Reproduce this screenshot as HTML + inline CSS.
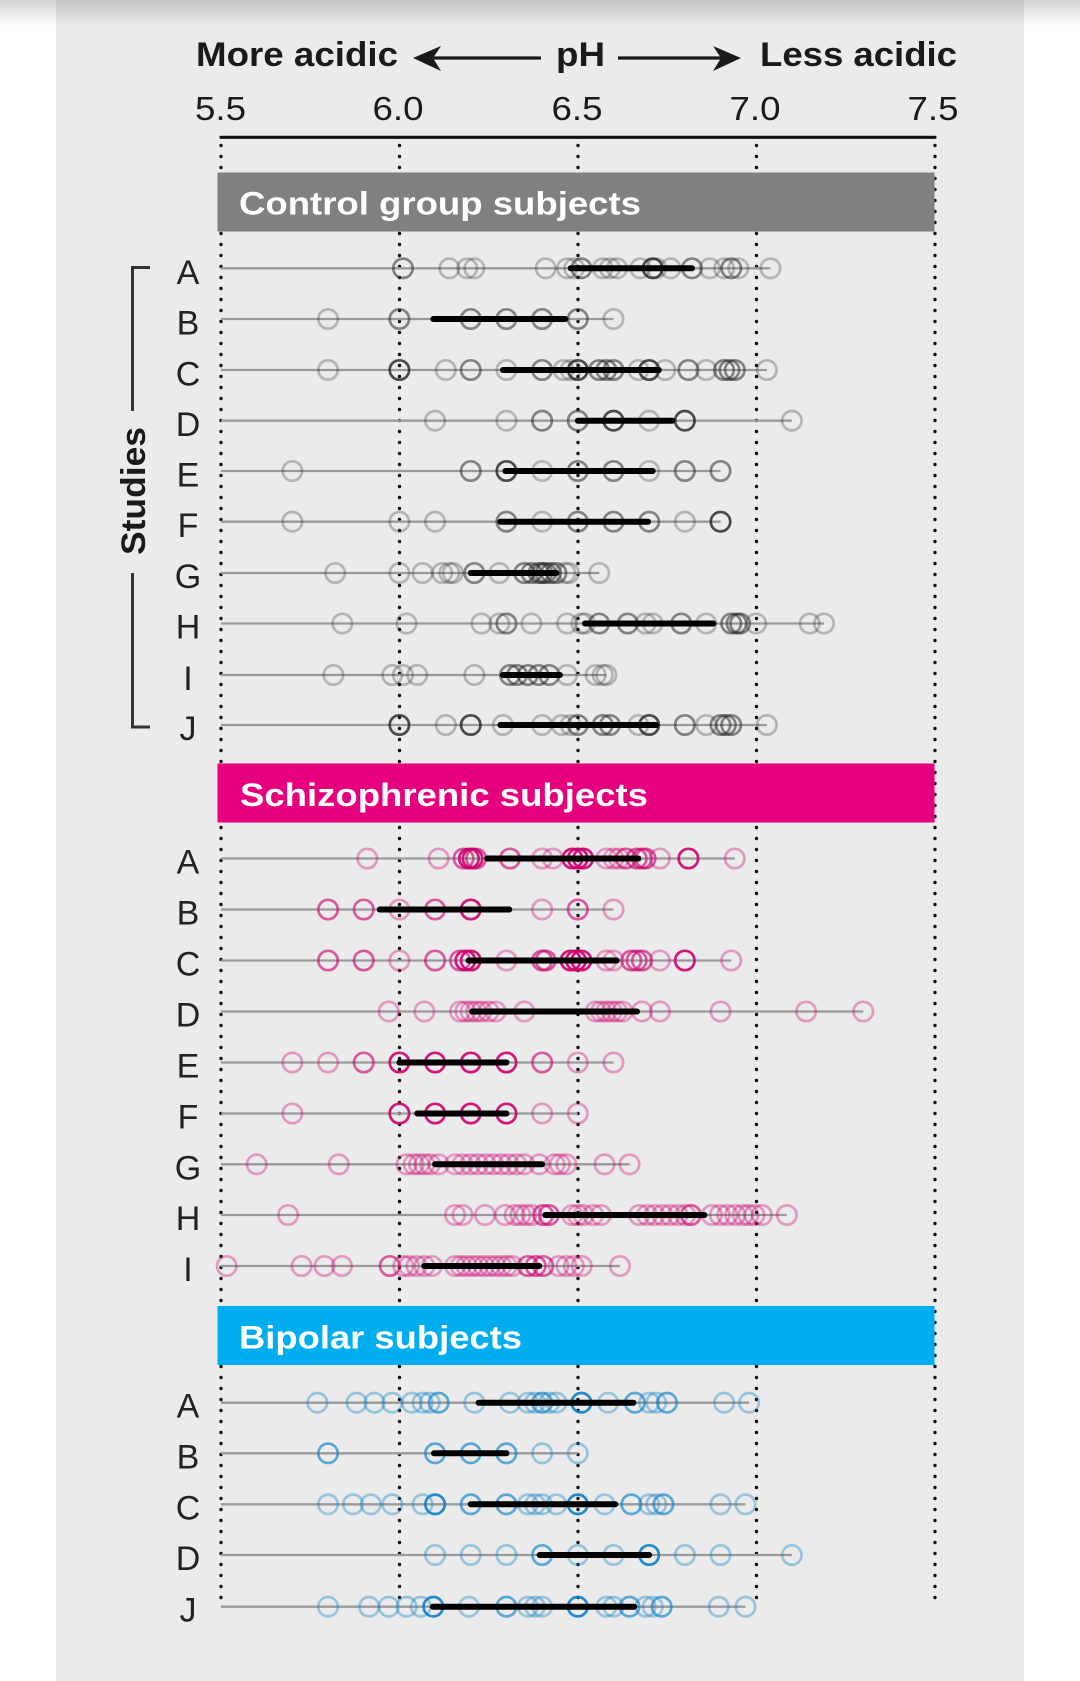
<!DOCTYPE html>
<html><head><meta charset="utf-8"><style>
html,body{margin:0;padding:0;background:#fff;}
svg{display:block;}
.c ellipse,.c line{vector-effect:non-scaling-stroke;}
.c ellipse{fill:none;stroke-width:2.7;}
.rl{stroke:#9a9a9a;stroke-width:2.3;}
.bar{stroke:#000;stroke-width:6;stroke-linecap:round;}
.k ellipse{stroke:#222;}
.k .l{stroke-opacity:.27}.k .m{stroke-opacity:.52}.k .d{stroke-opacity:.8}
.p ellipse{stroke:#cc0070;}
.p .l{stroke-opacity:.35}.p .m{stroke-opacity:.62}.p .d{stroke-opacity:.9}
.b ellipse{stroke:#0a80c6;}
.b .l{stroke-opacity:.37}.b .m{stroke-opacity:.64}.b .d{stroke-opacity:.9}
text{font-family:"Liberation Sans",Arial,sans-serif;}
</style></head><body>
<svg width="1080" height="1681" viewBox="0 0 1080 1681" xmlns="http://www.w3.org/2000/svg">
<defs>
<linearGradient id="sh" x1="0" y1="0" x2="0" y2="1">
<stop offset="0" stop-color="#000" stop-opacity="0.17"/>
<stop offset="1" stop-color="#000" stop-opacity="0"/>
</linearGradient>
</defs>
<rect x="0" y="0" width="1080" height="1681" fill="#fff"/>
<rect x="56" y="0" width="968" height="1681" fill="#ebebeb"/>
<rect x="0" y="0" width="1080" height="26" fill="url(#sh)"/>

<!-- title -->
<text x="196" y="66" font-size="34" font-weight="bold" fill="#1a1a1a" textLength="202" lengthAdjust="spacingAndGlyphs">More acidic</text>
<text x="556" y="66" font-size="34" font-weight="bold" fill="#1a1a1a" textLength="49" lengthAdjust="spacingAndGlyphs">pH</text>
<text x="760" y="66" font-size="34" font-weight="bold" fill="#1a1a1a" textLength="197" lengthAdjust="spacingAndGlyphs">Less acidic</text>
<line x1="428" y1="58" x2="541" y2="58" stroke="#1a1a1a" stroke-width="3.2"/>
<polygon points="413,58 441,46 433,58 441,71" fill="#1a1a1a"/>
<line x1="618" y1="58" x2="726" y2="58" stroke="#1a1a1a" stroke-width="3.2"/>
<polygon points="741,58 713,46 721,58 713,71" fill="#1a1a1a"/>

<!-- ticks -->
<g font-size="33" fill="#1a1a1a" text-anchor="middle">
<text x="220.5" y="120" textLength="51" lengthAdjust="spacingAndGlyphs">5.5</text>
<text x="398" y="120" textLength="51" lengthAdjust="spacingAndGlyphs">6.0</text>
<text x="577" y="120" textLength="51" lengthAdjust="spacingAndGlyphs">6.5</text>
<text x="755" y="120" textLength="51" lengthAdjust="spacingAndGlyphs">7.0</text>
<text x="933" y="120" textLength="51" lengthAdjust="spacingAndGlyphs">7.5</text>
</g>
<line x1="221" y1="137.3" x2="935" y2="137.3" stroke="#111" stroke-width="3.2" stroke-linecap="round"/>

<!-- dotted grid -->
<g stroke="#111" stroke-width="3.4" stroke-linecap="round" stroke-dasharray="0 11">
<line x1="221" y1="145.5" x2="221" y2="1607"/>
<line x1="399.5" y1="145.5" x2="399.5" y2="1607"/>
<line x1="578" y1="145.5" x2="578" y2="1607"/>
<line x1="756.5" y1="145.5" x2="756.5" y2="1607"/>
<line x1="935" y1="145.5" x2="935" y2="1607"/>
</g>

<!-- headers -->
<rect x="217.5" y="172.5" width="717" height="59" fill="#808082"/>
<text x="239" y="214.5" font-size="32" font-weight="bold" fill="#fff" textLength="402" lengthAdjust="spacingAndGlyphs">Control group subjects</text>
<rect x="217.5" y="763.5" width="717" height="59" fill="#e6007e"/>
<text x="240" y="806" font-size="32" font-weight="bold" fill="#fff" textLength="408" lengthAdjust="spacingAndGlyphs">Schizophrenic subjects</text>
<rect x="217.5" y="1306" width="717" height="59" fill="#00aeef"/>
<text x="239" y="1348.5" font-size="32" font-weight="bold" fill="#fff" textLength="283" lengthAdjust="spacingAndGlyphs">Bipolar subjects</text>

<!-- studies bracket -->
<path d="M150 267.5 H132.5 V411 M132.5 573 V727 H150" fill="none" stroke="#333" stroke-width="3"/>
<text transform="translate(145 491) rotate(-90)" font-size="34" font-weight="bold" fill="#1a1a1a" text-anchor="middle" textLength="128" lengthAdjust="spacingAndGlyphs">Studies</text>

<!-- row letters -->
<g font-size="34" fill="#222" text-anchor="middle">
<text x="188" y="284">A</text><text x="188" y="334.5">B</text><text x="188" y="385.5">C</text><text x="188" y="436">D</text><text x="188" y="486.5">E</text><text x="188" y="537">F</text><text x="188" y="588">G</text><text x="188" y="638.5">H</text><text x="188" y="690">I</text><text x="188" y="740">J</text>
<text x="188" y="873.5">A</text><text x="188" y="924.5">B</text><text x="188" y="975.5">C</text><text x="188" y="1026.5">D</text><text x="188" y="1077.5">E</text><text x="188" y="1128.5">F</text><text x="188" y="1179.5">G</text><text x="188" y="1230">H</text><text x="188" y="1281">I</text>
<text x="188" y="1417.5">A</text><text x="188" y="1468.5">B</text><text x="188" y="1519.5">C</text><text x="188" y="1570">D</text><text x="188" y="1621.5">J</text>
</g>

<!-- data -->
<g class="c" transform="translate(-1741.4 0) scale(356.8 1)">

<g class="k">
<g transform="translate(0 268.3)">
<line x1="5.5" x2="7.04" class="rl"/>
<ellipse cx="6.01" rx=".0272" ry="9.7" class="m"/><ellipse cx="6.14" rx=".0272" ry="9.7" class="l"/><ellipse cx="6.19" rx=".0272" ry="9.7" class="l"/><ellipse cx="6.21" rx=".0272" ry="9.7" class="l"/><ellipse cx="6.41" rx=".0272" ry="9.7" class="l"/><ellipse cx="6.47" rx=".0272" ry="9.7" class="l"/><ellipse cx="6.49" rx=".0272" ry="9.7" class="l"/><ellipse cx="6.51" rx=".0272" ry="9.7" class="m"/><ellipse cx="6.57" rx=".0272" ry="9.7" class="l"/><ellipse cx="6.59" rx=".0272" ry="9.7" class="l"/><ellipse cx="6.61" rx=".0272" ry="9.7" class="l"/><ellipse cx="6.675" rx=".0272" ry="9.7" class="l"/><ellipse cx="6.71" rx=".0272" ry="9.7" class="d"/><ellipse cx="6.72" rx=".0272" ry="9.7" class="l"/><ellipse cx="6.76" rx=".0272" ry="9.7" class="l"/><ellipse cx="6.82" rx=".0272" ry="9.7" class="m"/><ellipse cx="6.87" rx=".0272" ry="9.7" class="l"/><ellipse cx="6.91" rx=".0272" ry="9.7" class="l"/><ellipse cx="6.93" rx=".0272" ry="9.7" class="m"/><ellipse cx="6.95" rx=".0272" ry="9.7" class="l"/><ellipse cx="7.04" rx=".0272" ry="9.7" class="l"/>
<line x1="6.48" x2="6.82" class="bar"/>
</g>
<g transform="translate(0 319)">
<line x1="5.5" x2="6.6" class="rl"/>
<ellipse cx="5.8" rx=".0272" ry="9.7" class="l"/><ellipse cx="6.0" rx=".0272" ry="9.7" class="m"/><ellipse cx="6.2" rx=".0272" ry="9.7" class="m"/><ellipse cx="6.3" rx=".0272" ry="9.7" class="m"/><ellipse cx="6.4" rx=".0272" ry="9.7" class="m"/><ellipse cx="6.5" rx=".0272" ry="9.7" class="m"/><ellipse cx="6.6" rx=".0272" ry="9.7" class="l"/>
<line x1="6.095" x2="6.465" class="bar"/>
</g>
<g transform="translate(0 370)">
<line x1="5.5" x2="7.03" class="rl"/>
<ellipse cx="5.8" rx=".0272" ry="9.7" class="l"/><ellipse cx="6.0" rx=".0272" ry="9.7" class="d"/><ellipse cx="6.13" rx=".0272" ry="9.7" class="l"/><ellipse cx="6.2" rx=".0272" ry="9.7" class="m"/><ellipse cx="6.3" rx=".0272" ry="9.7" class="l"/><ellipse cx="6.4" rx=".0272" ry="9.7" class="m"/><ellipse cx="6.46" rx=".0272" ry="9.7" class="l"/><ellipse cx="6.48" rx=".0272" ry="9.7" class="l"/><ellipse cx="6.5" rx=".0272" ry="9.7" class="d"/><ellipse cx="6.56" rx=".0272" ry="9.7" class="m"/><ellipse cx="6.58" rx=".0272" ry="9.7" class="m"/><ellipse cx="6.6" rx=".0272" ry="9.7" class="m"/><ellipse cx="6.67" rx=".0272" ry="9.7" class="l"/><ellipse cx="6.7" rx=".0272" ry="9.7" class="d"/><ellipse cx="6.745" rx=".0272" ry="9.7" class="l"/><ellipse cx="6.81" rx=".0272" ry="9.7" class="m"/><ellipse cx="6.86" rx=".0272" ry="9.7" class="l"/><ellipse cx="6.91" rx=".0272" ry="9.7" class="m"/><ellipse cx="6.925" rx=".0272" ry="9.7" class="m"/><ellipse cx="6.94" rx=".0272" ry="9.7" class="m"/><ellipse cx="7.03" rx=".0272" ry="9.7" class="l"/>
<line x1="6.29" x2="6.727" class="bar"/>
</g>
<g transform="translate(0 420.7)">
<line x1="5.5" x2="7.1" class="rl"/>
<ellipse cx="6.1" rx=".0272" ry="9.7" class="l"/><ellipse cx="6.3" rx=".0272" ry="9.7" class="l"/><ellipse cx="6.4" rx=".0272" ry="9.7" class="m"/><ellipse cx="6.5" rx=".0272" ry="9.7" class="m"/><ellipse cx="6.6" rx=".0272" ry="9.7" class="d"/><ellipse cx="6.7" rx=".0272" ry="9.7" class="l"/><ellipse cx="6.8" rx=".0272" ry="9.7" class="d"/><ellipse cx="7.1" rx=".0272" ry="9.7" class="l"/>
<line x1="6.5" x2="6.765" class="bar"/>
</g>
<g transform="translate(0 471)">
<line x1="5.5" x2="6.9" class="rl"/>
<ellipse cx="5.7" rx=".0272" ry="9.7" class="l"/><ellipse cx="6.2" rx=".0272" ry="9.7" class="m"/><ellipse cx="6.3" rx=".0272" ry="9.7" class="d"/><ellipse cx="6.4" rx=".0272" ry="9.7" class="l"/><ellipse cx="6.5" rx=".0272" ry="9.7" class="m"/><ellipse cx="6.6" rx=".0272" ry="9.7" class="m"/><ellipse cx="6.7" rx=".0272" ry="9.7" class="l"/><ellipse cx="6.8" rx=".0272" ry="9.7" class="m"/><ellipse cx="6.9" rx=".0272" ry="9.7" class="m"/>
<line x1="6.297" x2="6.71" class="bar"/>
</g>
<g transform="translate(0 521.7)">
<line x1="5.5" x2="6.9" class="rl"/>
<ellipse cx="5.7" rx=".0272" ry="9.7" class="l"/><ellipse cx="6.0" rx=".0272" ry="9.7" class="l"/><ellipse cx="6.1" rx=".0272" ry="9.7" class="l"/><ellipse cx="6.3" rx=".0272" ry="9.7" class="m"/><ellipse cx="6.4" rx=".0272" ry="9.7" class="l"/><ellipse cx="6.5" rx=".0272" ry="9.7" class="m"/><ellipse cx="6.6" rx=".0272" ry="9.7" class="m"/><ellipse cx="6.7" rx=".0272" ry="9.7" class="m"/><ellipse cx="6.8" rx=".0272" ry="9.7" class="l"/><ellipse cx="6.9" rx=".0272" ry="9.7" class="d"/>
<line x1="6.283" x2="6.697" class="bar"/>
</g>
<g transform="translate(0 573)">
<line x1="5.5" x2="6.56" class="rl"/>
<ellipse cx="5.82" rx=".0272" ry="9.7" class="l"/><ellipse cx="6.0" rx=".0272" ry="9.7" class="l"/><ellipse cx="6.065" rx=".0272" ry="9.7" class="l"/><ellipse cx="6.12" rx=".0272" ry="9.7" class="l"/><ellipse cx="6.14" rx=".0272" ry="9.7" class="l"/><ellipse cx="6.15" rx=".0272" ry="9.7" class="l"/><ellipse cx="6.21" rx=".0272" ry="9.7" class="m"/><ellipse cx="6.28" rx=".0272" ry="9.7" class="l"/><ellipse cx="6.35" rx=".0272" ry="9.7" class="m"/><ellipse cx="6.37" rx=".0272" ry="9.7" class="m"/><ellipse cx="6.39" rx=".0272" ry="9.7" class="m"/><ellipse cx="6.40" rx=".0272" ry="9.7" class="m"/><ellipse cx="6.41" rx=".0272" ry="9.7" class="m"/><ellipse cx="6.425" rx=".0272" ry="9.7" class="m"/><ellipse cx="6.44" rx=".0272" ry="9.7" class="m"/><ellipse cx="6.465" rx=".0272" ry="9.7" class="l"/><ellipse cx="6.475" rx=".0272" ry="9.7" class="l"/><ellipse cx="6.56" rx=".0272" ry="9.7" class="l"/>
<line x1="6.2" x2="6.44" class="bar"/>
</g>
<g transform="translate(0 623.5)">
<line x1="5.5" x2="7.19" class="rl"/>
<ellipse cx="5.84" rx=".0272" ry="9.7" class="l"/><ellipse cx="6.02" rx=".0272" ry="9.7" class="l"/><ellipse cx="6.23" rx=".0272" ry="9.7" class="l"/><ellipse cx="6.28" rx=".0272" ry="9.7" class="l"/><ellipse cx="6.3" rx=".0272" ry="9.7" class="m"/><ellipse cx="6.37" rx=".0272" ry="9.7" class="l"/><ellipse cx="6.47" rx=".0272" ry="9.7" class="l"/><ellipse cx="6.51" rx=".0272" ry="9.7" class="l"/><ellipse cx="6.52" rx=".0272" ry="9.7" class="l"/><ellipse cx="6.56" rx=".0272" ry="9.7" class="m"/><ellipse cx="6.64" rx=".0272" ry="9.7" class="m"/><ellipse cx="6.69" rx=".0272" ry="9.7" class="l"/><ellipse cx="6.71" rx=".0272" ry="9.7" class="l"/><ellipse cx="6.79" rx=".0272" ry="9.7" class="m"/><ellipse cx="6.86" rx=".0272" ry="9.7" class="l"/><ellipse cx="6.93" rx=".0272" ry="9.7" class="m"/><ellipse cx="6.945" rx=".0272" ry="9.7" class="m"/><ellipse cx="6.955" rx=".0272" ry="9.7" class="m"/><ellipse cx="7.0" rx=".0272" ry="9.7" class="l"/><ellipse cx="7.15" rx=".0272" ry="9.7" class="l"/><ellipse cx="7.19" rx=".0272" ry="9.7" class="l"/>
<line x1="6.52" x2="6.88" class="bar"/>
</g>
<g transform="translate(0 675)">
<line x1="5.5" x2="6.58" class="rl"/>
<ellipse cx="5.815" rx=".0272" ry="9.7" class="l"/><ellipse cx="5.98" rx=".0272" ry="9.7" class="l"/><ellipse cx="6.01" rx=".0272" ry="9.7" class="l"/><ellipse cx="6.05" rx=".0272" ry="9.7" class="l"/><ellipse cx="6.21" rx=".0272" ry="9.7" class="l"/><ellipse cx="6.31" rx=".0272" ry="9.7" class="m"/><ellipse cx="6.33" rx=".0272" ry="9.7" class="m"/><ellipse cx="6.36" rx=".0272" ry="9.7" class="m"/><ellipse cx="6.39" rx=".0272" ry="9.7" class="m"/><ellipse cx="6.42" rx=".0272" ry="9.7" class="m"/><ellipse cx="6.47" rx=".0272" ry="9.7" class="l"/><ellipse cx="6.55" rx=".0272" ry="9.7" class="l"/><ellipse cx="6.57" rx=".0272" ry="9.7" class="l"/><ellipse cx="6.58" rx=".0272" ry="9.7" class="l"/>
<line x1="6.29" x2="6.45" class="bar"/>
</g>
<g transform="translate(0 725)">
<line x1="5.5" x2="7.03" class="rl"/>
<ellipse cx="6.0" rx=".0272" ry="9.7" class="d"/><ellipse cx="6.13" rx=".0272" ry="9.7" class="l"/><ellipse cx="6.2" rx=".0272" ry="9.7" class="d"/><ellipse cx="6.29" rx=".0272" ry="9.7" class="l"/><ellipse cx="6.4" rx=".0272" ry="9.7" class="l"/><ellipse cx="6.455" rx=".0272" ry="9.7" class="l"/><ellipse cx="6.48" rx=".0272" ry="9.7" class="l"/><ellipse cx="6.5" rx=".0272" ry="9.7" class="m"/><ellipse cx="6.57" rx=".0272" ry="9.7" class="m"/><ellipse cx="6.59" rx=".0272" ry="9.7" class="m"/><ellipse cx="6.67" rx=".0272" ry="9.7" class="l"/><ellipse cx="6.7" rx=".0272" ry="9.7" class="d"/><ellipse cx="6.8" rx=".0272" ry="9.7" class="m"/><ellipse cx="6.86" rx=".0272" ry="9.7" class="l"/><ellipse cx="6.9" rx=".0272" ry="9.7" class="m"/><ellipse cx="6.915" rx=".0272" ry="9.7" class="m"/><ellipse cx="6.93" rx=".0272" ry="9.7" class="m"/><ellipse cx="7.03" rx=".0272" ry="9.7" class="l"/>
<line x1="6.283" x2="6.72" class="bar"/>
</g>
</g>

<g class="p">
<g transform="translate(0 858.5)">
<line x1="5.5" x2="6.94" class="rl"/>
<ellipse cx="5.91" rx=".0272" ry="9.7" class="l"/><ellipse cx="6.11" rx=".0272" ry="9.7" class="l"/><ellipse cx="6.18" rx=".0272" ry="9.7" class="m"/><ellipse cx="6.195" rx=".0272" ry="9.7" class="d"/><ellipse cx="6.205" rx=".0272" ry="9.7" class="d"/><ellipse cx="6.215" rx=".0272" ry="9.7" class="m"/><ellipse cx="6.31" rx=".0272" ry="9.7" class="m"/><ellipse cx="6.4" rx=".0272" ry="9.7" class="l"/><ellipse cx="6.43" rx=".0272" ry="9.7" class="l"/><ellipse cx="6.485" rx=".0272" ry="9.7" class="d"/><ellipse cx="6.5" rx=".0272" ry="9.7" class="d"/><ellipse cx="6.515" rx=".0272" ry="9.7" class="d"/><ellipse cx="6.58" rx=".0272" ry="9.7" class="l"/><ellipse cx="6.6" rx=".0272" ry="9.7" class="l"/><ellipse cx="6.615" rx=".0272" ry="9.7" class="l"/><ellipse cx="6.635" rx=".0272" ry="9.7" class="m"/><ellipse cx="6.665" rx=".0272" ry="9.7" class="m"/><ellipse cx="6.68" rx=".0272" ry="9.7" class="m"/><ellipse cx="6.69" rx=".0272" ry="9.7" class="m"/><ellipse cx="6.73" rx=".0272" ry="9.7" class="l"/><ellipse cx="6.81" rx=".0272" ry="9.7" class="d"/><ellipse cx="6.94" rx=".0272" ry="9.7" class="l"/>
<line x1="6.246" x2="6.67" class="bar"/>
</g>
<g transform="translate(0 909.5)">
<line x1="5.5" x2="6.6" class="rl"/>
<ellipse cx="5.8" rx=".0272" ry="9.7" class="m"/><ellipse cx="5.9" rx=".0272" ry="9.7" class="m"/><ellipse cx="6.0" rx=".0272" ry="9.7" class="l"/><ellipse cx="6.1" rx=".0272" ry="9.7" class="m"/><ellipse cx="6.2" rx=".0272" ry="9.7" class="d"/><ellipse cx="6.4" rx=".0272" ry="9.7" class="l"/><ellipse cx="6.5" rx=".0272" ry="9.7" class="m"/><ellipse cx="6.6" rx=".0272" ry="9.7" class="l"/>
<line x1="5.945" x2="6.308" class="bar"/>
</g>
<g transform="translate(0 960.5)">
<line x1="5.5" x2="6.93" class="rl"/>
<ellipse cx="5.8" rx=".0272" ry="9.7" class="m"/><ellipse cx="5.9" rx=".0272" ry="9.7" class="m"/><ellipse cx="6.0" rx=".0272" ry="9.7" class="l"/><ellipse cx="6.1" rx=".0272" ry="9.7" class="m"/><ellipse cx="6.17" rx=".0272" ry="9.7" class="m"/><ellipse cx="6.185" rx=".0272" ry="9.7" class="d"/><ellipse cx="6.2" rx=".0272" ry="9.7" class="d"/><ellipse cx="6.3" rx=".0272" ry="9.7" class="l"/><ellipse cx="6.4" rx=".0272" ry="9.7" class="m"/><ellipse cx="6.41" rx=".0272" ry="9.7" class="m"/><ellipse cx="6.48" rx=".0272" ry="9.7" class="d"/><ellipse cx="6.495" rx=".0272" ry="9.7" class="d"/><ellipse cx="6.51" rx=".0272" ry="9.7" class="d"/><ellipse cx="6.58" rx=".0272" ry="9.7" class="l"/><ellipse cx="6.6" rx=".0272" ry="9.7" class="l"/><ellipse cx="6.65" rx=".0272" ry="9.7" class="m"/><ellipse cx="6.665" rx=".0272" ry="9.7" class="m"/><ellipse cx="6.68" rx=".0272" ry="9.7" class="m"/><ellipse cx="6.73" rx=".0272" ry="9.7" class="l"/><ellipse cx="6.8" rx=".0272" ry="9.7" class="d"/><ellipse cx="6.93" rx=".0272" ry="9.7" class="l"/>
<line x1="6.194" x2="6.609" class="bar"/>
</g>
<g transform="translate(0 1011.5)">
<line x1="5.5" x2="7.3" class="rl"/>
<ellipse cx="5.97" rx=".0272" ry="9.7" class="l"/><ellipse cx="6.07" rx=".0272" ry="9.7" class="l"/><ellipse cx="6.17" rx=".0272" ry="9.7" class="l"/><ellipse cx="6.185" rx=".0272" ry="9.7" class="l"/><ellipse cx="6.2" rx=".0272" ry="9.7" class="l"/><ellipse cx="6.215" rx=".0272" ry="9.7" class="l"/><ellipse cx="6.23" rx=".0272" ry="9.7" class="l"/><ellipse cx="6.25" rx=".0272" ry="9.7" class="l"/><ellipse cx="6.27" rx=".0272" ry="9.7" class="l"/><ellipse cx="6.35" rx=".0272" ry="9.7" class="l"/><ellipse cx="6.55" rx=".0272" ry="9.7" class="l"/><ellipse cx="6.565" rx=".0272" ry="9.7" class="l"/><ellipse cx="6.58" rx=".0272" ry="9.7" class="l"/><ellipse cx="6.595" rx=".0272" ry="9.7" class="l"/><ellipse cx="6.61" rx=".0272" ry="9.7" class="l"/><ellipse cx="6.625" rx=".0272" ry="9.7" class="l"/><ellipse cx="6.68" rx=".0272" ry="9.7" class="l"/><ellipse cx="6.73" rx=".0272" ry="9.7" class="l"/><ellipse cx="6.9" rx=".0272" ry="9.7" class="l"/><ellipse cx="7.14" rx=".0272" ry="9.7" class="l"/><ellipse cx="7.3" rx=".0272" ry="9.7" class="l"/>
<line x1="6.204" x2="6.666" class="bar"/>
</g>
<g transform="translate(0 1062.5)">
<line x1="5.5" x2="6.6" class="rl"/>
<ellipse cx="5.7" rx=".0272" ry="9.7" class="l"/><ellipse cx="5.8" rx=".0272" ry="9.7" class="l"/><ellipse cx="5.9" rx=".0272" ry="9.7" class="m"/><ellipse cx="6.0" rx=".0272" ry="9.7" class="d"/><ellipse cx="6.1" rx=".0272" ry="9.7" class="d"/><ellipse cx="6.2" rx=".0272" ry="9.7" class="d"/><ellipse cx="6.3" rx=".0272" ry="9.7" class="d"/><ellipse cx="6.4" rx=".0272" ry="9.7" class="m"/><ellipse cx="6.5" rx=".0272" ry="9.7" class="l"/><ellipse cx="6.6" rx=".0272" ry="9.7" class="l"/>
<line x1="6.0" x2="6.3" class="bar"/>
</g>
<g transform="translate(0 1113.5)">
<line x1="5.5" x2="6.5" class="rl"/>
<ellipse cx="5.7" rx=".0272" ry="9.7" class="l"/><ellipse cx="6.0" rx=".0272" ry="9.7" class="d"/><ellipse cx="6.1" rx=".0272" ry="9.7" class="d"/><ellipse cx="6.2" rx=".0272" ry="9.7" class="d"/><ellipse cx="6.3" rx=".0272" ry="9.7" class="d"/><ellipse cx="6.4" rx=".0272" ry="9.7" class="l"/><ellipse cx="6.5" rx=".0272" ry="9.7" class="l"/>
<line x1="6.05" x2="6.3" class="bar"/>
</g>
<g transform="translate(0 1164.3)">
<line x1="5.5" x2="6.645" class="rl"/>
<ellipse cx="5.6" rx=".0272" ry="9.7" class="l"/><ellipse cx="5.83" rx=".0272" ry="9.7" class="l"/><ellipse cx="6.02" rx=".0272" ry="9.7" class="l"/><ellipse cx="6.04" rx=".0272" ry="9.7" class="l"/><ellipse cx="6.055" rx=".0272" ry="9.7" class="l"/><ellipse cx="6.07" rx=".0272" ry="9.7" class="l"/><ellipse cx="6.086" rx=".0272" ry="9.7" class="l"/><ellipse cx="6.11" rx=".0272" ry="9.7" class="l"/><ellipse cx="6.156" rx=".0272" ry="9.7" class="l"/><ellipse cx="6.177" rx=".0272" ry="9.7" class="l"/><ellipse cx="6.199" rx=".0272" ry="9.7" class="l"/><ellipse cx="6.22" rx=".0272" ry="9.7" class="l"/><ellipse cx="6.242" rx=".0272" ry="9.7" class="l"/><ellipse cx="6.263" rx=".0272" ry="9.7" class="l"/><ellipse cx="6.285" rx=".0272" ry="9.7" class="l"/><ellipse cx="6.306" rx=".0272" ry="9.7" class="l"/><ellipse cx="6.328" rx=".0272" ry="9.7" class="l"/><ellipse cx="6.35" rx=".0272" ry="9.7" class="l"/><ellipse cx="6.392" rx=".0272" ry="9.7" class="l"/><ellipse cx="6.435" rx=".0272" ry="9.7" class="l"/><ellipse cx="6.45" rx=".0272" ry="9.7" class="l"/><ellipse cx="6.468" rx=".0272" ry="9.7" class="l"/><ellipse cx="6.575" rx=".0272" ry="9.7" class="l"/><ellipse cx="6.645" rx=".0272" ry="9.7" class="l"/>
<line x1="6.1" x2="6.4" class="bar"/>
</g>
<g transform="translate(0 1215)">
<line x1="5.5" x2="7.086" class="rl"/>
<ellipse cx="5.688" rx=".0272" ry="9.7" class="l"/><ellipse cx="6.156" rx=".0272" ry="9.7" class="l"/><ellipse cx="6.177" rx=".0272" ry="9.7" class="l"/><ellipse cx="6.24" rx=".0272" ry="9.7" class="l"/><ellipse cx="6.296" rx=".0272" ry="9.7" class="l"/><ellipse cx="6.323" rx=".0272" ry="9.7" class="l"/><ellipse cx="6.339" rx=".0272" ry="9.7" class="l"/><ellipse cx="6.355" rx=".0272" ry="9.7" class="l"/><ellipse cx="6.371" rx=".0272" ry="9.7" class="l"/><ellipse cx="6.403" rx=".0272" ry="9.7" class="m"/><ellipse cx="6.419" rx=".0272" ry="9.7" class="m"/><ellipse cx="6.484" rx=".0272" ry="9.7" class="l"/><ellipse cx="6.5" rx=".0272" ry="9.7" class="l"/><ellipse cx="6.516" rx=".0272" ry="9.7" class="l"/><ellipse cx="6.543" rx=".0272" ry="9.7" class="l"/><ellipse cx="6.565" rx=".0272" ry="9.7" class="l"/><ellipse cx="6.672" rx=".0272" ry="9.7" class="l"/><ellipse cx="6.694" rx=".0272" ry="9.7" class="l"/><ellipse cx="6.715" rx=".0272" ry="9.7" class="l"/><ellipse cx="6.737" rx=".0272" ry="9.7" class="l"/><ellipse cx="6.758" rx=".0272" ry="9.7" class="l"/><ellipse cx="6.78" rx=".0272" ry="9.7" class="l"/><ellipse cx="6.801" rx=".0272" ry="9.7" class="l"/><ellipse cx="6.817" rx=".0272" ry="9.7" class="m"/><ellipse cx="6.876" rx=".0272" ry="9.7" class="l"/><ellipse cx="6.898" rx=".0272" ry="9.7" class="l"/><ellipse cx="6.919" rx=".0272" ry="9.7" class="l"/><ellipse cx="6.941" rx=".0272" ry="9.7" class="l"/><ellipse cx="6.962" rx=".0272" ry="9.7" class="l"/><ellipse cx="6.978" rx=".0272" ry="9.7" class="l"/><ellipse cx="6.995" rx=".0272" ry="9.7" class="l"/><ellipse cx="7.016" rx=".0272" ry="9.7" class="l"/><ellipse cx="7.086" rx=".0272" ry="9.7" class="l"/>
<line x1="6.409" x2="6.855" class="bar"/>
</g>
<g transform="translate(0 1266)">
<line x1="5.5" x2="6.618" class="rl"/>
<ellipse cx="5.516" rx=".0272" ry="9.7" class="l"/><ellipse cx="5.726" rx=".0272" ry="9.7" class="l"/><ellipse cx="5.79" rx=".0272" ry="9.7" class="l"/><ellipse cx="5.839" rx=".0272" ry="9.7" class="l"/><ellipse cx="5.973" rx=".0272" ry="9.7" class="m"/><ellipse cx="6.011" rx=".0272" ry="9.7" class="l"/><ellipse cx="6.027" rx=".0272" ry="9.7" class="l"/><ellipse cx="6.048" rx=".0272" ry="9.7" class="l"/><ellipse cx="6.07" rx=".0272" ry="9.7" class="l"/><ellipse cx="6.091" rx=".0272" ry="9.7" class="l"/><ellipse cx="6.156" rx=".0272" ry="9.7" class="l"/><ellipse cx="6.172" rx=".0272" ry="9.7" class="l"/><ellipse cx="6.188" rx=".0272" ry="9.7" class="l"/><ellipse cx="6.204" rx=".0272" ry="9.7" class="l"/><ellipse cx="6.22" rx=".0272" ry="9.7" class="l"/><ellipse cx="6.237" rx=".0272" ry="9.7" class="l"/><ellipse cx="6.253" rx=".0272" ry="9.7" class="l"/><ellipse cx="6.269" rx=".0272" ry="9.7" class="l"/><ellipse cx="6.285" rx=".0272" ry="9.7" class="l"/><ellipse cx="6.301" rx=".0272" ry="9.7" class="l"/><ellipse cx="6.317" rx=".0272" ry="9.7" class="l"/><ellipse cx="6.36" rx=".0272" ry="9.7" class="m"/><ellipse cx="6.382" rx=".0272" ry="9.7" class="m"/><ellipse cx="6.403" rx=".0272" ry="9.7" class="m"/><ellipse cx="6.446" rx=".0272" ry="9.7" class="l"/><ellipse cx="6.468" rx=".0272" ry="9.7" class="l"/><ellipse cx="6.489" rx=".0272" ry="9.7" class="l"/><ellipse cx="6.511" rx=".0272" ry="9.7" class="l"/><ellipse cx="6.618" rx=".0272" ry="9.7" class="l"/>
<line x1="6.07" x2="6.392" class="bar"/>
</g>
</g>

<g class="b">
<g transform="translate(0 1402.7)">
<line x1="5.5" x2="6.98" class="rl"/>
<ellipse cx="5.77" rx=".0272" ry="9.7" class="l"/><ellipse cx="5.88" rx=".0272" ry="9.7" class="l"/><ellipse cx="5.93" rx=".0272" ry="9.7" class="l"/><ellipse cx="5.98" rx=".0272" ry="9.7" class="l"/><ellipse cx="6.035" rx=".0272" ry="9.7" class="l"/><ellipse cx="6.065" rx=".0272" ry="9.7" class="l"/><ellipse cx="6.085" rx=".0272" ry="9.7" class="l"/><ellipse cx="6.11" rx=".0272" ry="9.7" class="m"/><ellipse cx="6.21" rx=".0272" ry="9.7" class="l"/><ellipse cx="6.31" rx=".0272" ry="9.7" class="l"/><ellipse cx="6.36" rx=".0272" ry="9.7" class="l"/><ellipse cx="6.38" rx=".0272" ry="9.7" class="l"/><ellipse cx="6.40" rx=".0272" ry="9.7" class="m"/><ellipse cx="6.42" rx=".0272" ry="9.7" class="l"/><ellipse cx="6.44" rx=".0272" ry="9.7" class="l"/><ellipse cx="6.51" rx=".0272" ry="9.7" class="d"/><ellipse cx="6.585" rx=".0272" ry="9.7" class="l"/><ellipse cx="6.66" rx=".0272" ry="9.7" class="m"/><ellipse cx="6.7" rx=".0272" ry="9.7" class="l"/><ellipse cx="6.72" rx=".0272" ry="9.7" class="l"/><ellipse cx="6.75" rx=".0272" ry="9.7" class="m"/><ellipse cx="6.91" rx=".0272" ry="9.7" class="l"/><ellipse cx="6.98" rx=".0272" ry="9.7" class="l"/>
<line x1="6.222" x2="6.656" class="bar"/>
</g>
<g transform="translate(0 1453.3)">
<line x1="5.5" x2="6.5" class="rl"/>
<ellipse cx="5.8" rx=".0272" ry="9.7" class="m"/><ellipse cx="6.1" rx=".0272" ry="9.7" class="m"/><ellipse cx="6.2" rx=".0272" ry="9.7" class="m"/><ellipse cx="6.3" rx=".0272" ry="9.7" class="m"/><ellipse cx="6.4" rx=".0272" ry="9.7" class="l"/><ellipse cx="6.5" rx=".0272" ry="9.7" class="l"/>
<line x1="6.097" x2="6.3" class="bar"/>
</g>
<g transform="translate(0 1504.3)">
<line x1="5.5" x2="6.97" class="rl"/>
<ellipse cx="5.8" rx=".0272" ry="9.7" class="l"/><ellipse cx="5.87" rx=".0272" ry="9.7" class="l"/><ellipse cx="5.92" rx=".0272" ry="9.7" class="l"/><ellipse cx="5.98" rx=".0272" ry="9.7" class="l"/><ellipse cx="6.065" rx=".0272" ry="9.7" class="l"/><ellipse cx="6.1" rx=".0272" ry="9.7" class="d"/><ellipse cx="6.2" rx=".0272" ry="9.7" class="m"/><ellipse cx="6.3" rx=".0272" ry="9.7" class="m"/><ellipse cx="6.36" rx=".0272" ry="9.7" class="l"/><ellipse cx="6.38" rx=".0272" ry="9.7" class="l"/><ellipse cx="6.4" rx=".0272" ry="9.7" class="l"/><ellipse cx="6.44" rx=".0272" ry="9.7" class="l"/><ellipse cx="6.5" rx=".0272" ry="9.7" class="d"/><ellipse cx="6.575" rx=".0272" ry="9.7" class="l"/><ellipse cx="6.65" rx=".0272" ry="9.7" class="m"/><ellipse cx="6.7" rx=".0272" ry="9.7" class="l"/><ellipse cx="6.72" rx=".0272" ry="9.7" class="l"/><ellipse cx="6.74" rx=".0272" ry="9.7" class="m"/><ellipse cx="6.9" rx=".0272" ry="9.7" class="l"/><ellipse cx="6.97" rx=".0272" ry="9.7" class="l"/>
<line x1="6.2" x2="6.605" class="bar"/>
</g>
<g transform="translate(0 1555)">
<line x1="5.5" x2="7.1" class="rl"/>
<ellipse cx="6.1" rx=".0272" ry="9.7" class="l"/><ellipse cx="6.2" rx=".0272" ry="9.7" class="l"/><ellipse cx="6.3" rx=".0272" ry="9.7" class="l"/><ellipse cx="6.4" rx=".0272" ry="9.7" class="m"/><ellipse cx="6.5" rx=".0272" ry="9.7" class="l"/><ellipse cx="6.6" rx=".0272" ry="9.7" class="l"/><ellipse cx="6.7" rx=".0272" ry="9.7" class="d"/><ellipse cx="6.8" rx=".0272" ry="9.7" class="l"/><ellipse cx="6.9" rx=".0272" ry="9.7" class="l"/><ellipse cx="7.1" rx=".0272" ry="9.7" class="l"/>
<line x1="6.393" x2="6.7" class="bar"/>
</g>
<g transform="translate(0 1606.7)">
<line x1="5.5" x2="6.97" class="rl"/>
<ellipse cx="5.8" rx=".0272" ry="9.7" class="l"/><ellipse cx="5.915" rx=".0272" ry="9.7" class="l"/><ellipse cx="5.97" rx=".0272" ry="9.7" class="l"/><ellipse cx="6.02" rx=".0272" ry="9.7" class="l"/><ellipse cx="6.06" rx=".0272" ry="9.7" class="l"/><ellipse cx="6.095" rx=".0272" ry="9.7" class="d"/><ellipse cx="6.195" rx=".0272" ry="9.7" class="l"/><ellipse cx="6.3" rx=".0272" ry="9.7" class="m"/><ellipse cx="6.36" rx=".0272" ry="9.7" class="l"/><ellipse cx="6.38" rx=".0272" ry="9.7" class="l"/><ellipse cx="6.4" rx=".0272" ry="9.7" class="l"/><ellipse cx="6.5" rx=".0272" ry="9.7" class="d"/><ellipse cx="6.58" rx=".0272" ry="9.7" class="l"/><ellipse cx="6.6" rx=".0272" ry="9.7" class="l"/><ellipse cx="6.645" rx=".0272" ry="9.7" class="m"/><ellipse cx="6.69" rx=".0272" ry="9.7" class="l"/><ellipse cx="6.71" rx=".0272" ry="9.7" class="l"/><ellipse cx="6.735" rx=".0272" ry="9.7" class="m"/><ellipse cx="6.895" rx=".0272" ry="9.7" class="l"/><ellipse cx="6.97" rx=".0272" ry="9.7" class="l"/>
<line x1="6.094" x2="6.658" class="bar"/>
</g>
</g>

</g>
</svg>
</body></html>
